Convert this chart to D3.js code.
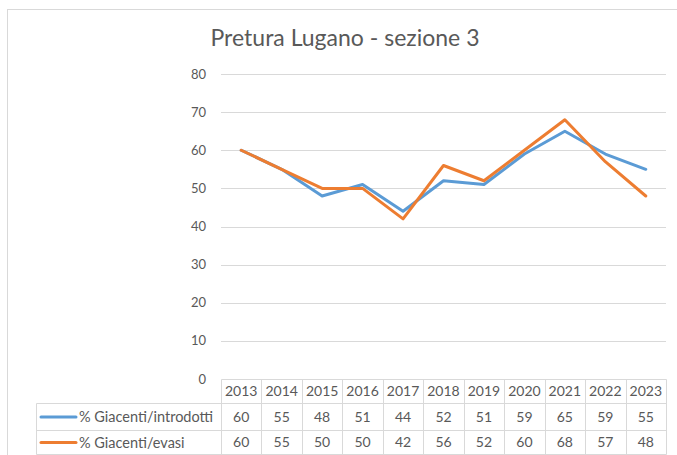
<!DOCTYPE html>
<html>
<head>
<meta charset="utf-8">
<script src="https://cdn.jsdelivr.net/npm/d3@7"></script>
<style>
  html, body { margin: 0; padding: 0; background: #fff; }
  svg { display: block; font-family: Lato, "Open Sans", sans-serif; }
</style>
</head>
<body>
<div id="chart"></div>
<script>
// data
const years = ['2013', '2014', '2015', '2016', '2017', '2018', '2019', '2020', '2021', '2022', '2023'];
const introdotti = [60, 55, 48, 51, 44, 52, 51, 59, 65, 59, 55];
const evasi = [60, 55, 50, 50, 42, 56, 52, 60, 68, 57, 48];
const yTicks = [0, 10, 20, 30, 40, 50, 60, 70, 80];
const seriesNames = ['% Giacenti/introdotti', '% Giacenti/evasi'];
const seriesColors = ['#5B9BD5', '#ED7D31'];
const title = 'Pretura Lugano - sezione 3';

const width = 677, height = 455;
const textColor = '#595959';
const gridColor = '#D9D9D9';

const svg = d3.select('#chart')
  .append('svg')
  .attr('width', width)
  .attr('height', height);

// chart border
svg.append('rect')
  .attr('x', 7.5)
  .attr('y', 9.5)
  .attr('width', 700)
  .attr('height', 500)
  .attr('fill', 'none')
  .attr('stroke', gridColor)
  .attr('stroke-width', 1);

const x = d3.scaleBand().domain(years).range([221, 666]);
const y = d3.scaleLinear().domain([0, 80]).range([379, 74]);

// title
svg.append('text')
  .attr('x', 345)
  .attr('y', 46)
  .attr('text-anchor', 'middle')
  .attr('fill', textColor)
  .style('font-size', '23px')
  .text(title);

// gridlines
svg.append('g')
  .selectAll('line')
  .data(yTicks.filter(d => d > 0))
  .enter()
  .append('line')
  .attr('x1', 221)
  .attr('x2', 666)
  .attr('y1', d => Math.round(y(d)) + 0.5)
  .attr('y2', d => Math.round(y(d)) + 0.5)
  .attr('stroke', gridColor)
  .attr('stroke-width', 1);

// y labels
svg.append('g')
  .selectAll('text')
  .data(yTicks)
  .enter()
  .append('text')
  .attr('x', 206)
  .attr('y', d => y(d))
  .attr('dy', '0.35em')
  .attr('text-anchor', 'end')
  .attr('fill', textColor)
  .style('font-size', '13px')
  .text(d => d);

// lines
const line = d3.line()
  .x((d, i) => x(years[i]) + x.bandwidth() / 2)
  .y(d => y(d));

[introdotti, evasi].forEach((series, k) => {
  svg.append('path')
    .datum(series)
    .attr('d', line)
    .attr('fill', 'none')
    .attr('stroke', seriesColors[k])
    .attr('stroke-width', 3)
    .attr('stroke-linejoin', 'round')
    .attr('stroke-linecap', 'round');
});

// data table
const rowTops = [379.5, 403.5, 430.5, 454.5];
const tableLeft = 36.5;
const table = svg.append('g')
  .attr('stroke', gridColor)
  .attr('stroke-width', 1);

// horizontal lines
table.append('line').attr('x1', x.range()[0] + 0.5).attr('x2', x.range()[1] + 0.5)
  .attr('y1', rowTops[0]).attr('y2', rowTops[0]);
rowTops.slice(1).forEach(r => {
  table.append('line').attr('x1', tableLeft).attr('x2', x.range()[1] + 0.5)
    .attr('y1', r).attr('y2', r);
});
// vertical lines
table.append('line').attr('x1', tableLeft).attr('x2', tableLeft)
  .attr('y1', rowTops[1]).attr('y2', rowTops[3]);
years.forEach(yr => {
  const xx = Math.round(x(yr)) + 0.5;
  table.append('line').attr('x1', xx).attr('x2', xx)
    .attr('y1', rowTops[0]).attr('y2', rowTops[3]);
});
table.append('line').attr('x1', x.range()[1] + 0.5).attr('x2', x.range()[1] + 0.5)
  .attr('y1', rowTops[0]).attr('y2', rowTops[3]);

// header text
svg.append('g')
  .selectAll('text')
  .data(years)
  .enter()
  .append('text')
  .attr('x', d => x(d) + x.bandwidth() / 2)
  .attr('y', (rowTops[0] + rowTops[1]) / 2)
  .attr('dy', '0.35em')
  .attr('text-anchor', 'middle')
  .attr('fill', textColor)
  .style('font-size', '14px')
  .text(d => d);

// series rows
[introdotti, evasi].forEach((series, k) => {
  const cy = (rowTops[k + 1] + rowTops[k + 2]) / 2;
  svg.append('line')
    .attr('x1', 41).attr('x2', 76)
    .attr('y1', cy).attr('y2', cy)
    .attr('stroke', seriesColors[k])
    .attr('stroke-width', 3)
    .attr('stroke-linecap', 'round');
  svg.append('text')
    .attr('x', 79)
    .attr('y', cy)
    .attr('dy', '0.35em')
    .attr('fill', textColor)
    .style('font-size', '14.5px')
    .text(seriesNames[k]);
  svg.append('g')
    .selectAll('text')
    .data(series)
    .enter()
    .append('text')
    .attr('x', (d, i) => x(years[i]) + x.bandwidth() / 2)
    .attr('y', cy)
    .attr('dy', '0.35em')
    .attr('text-anchor', 'middle')
    .attr('fill', textColor)
    .style('font-size', '14px')
    .text(d => d);
});
</script>
</body>
</html>
